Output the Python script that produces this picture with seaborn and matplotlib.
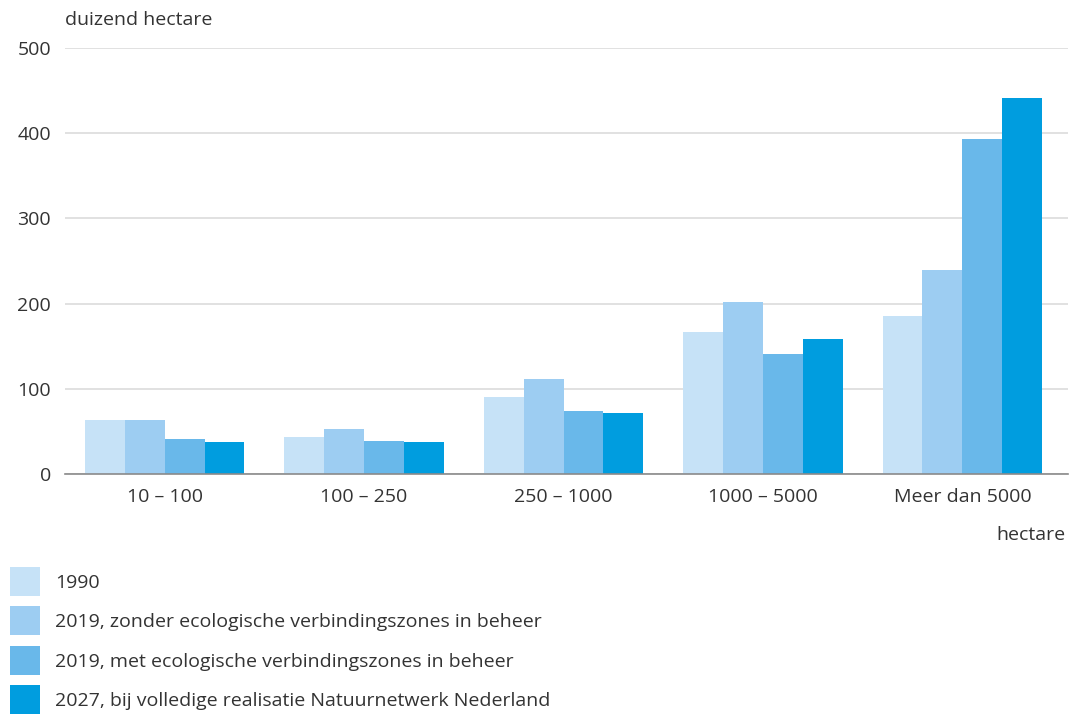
import numpy as np
import pandas as pd
import seaborn as sns
import matplotlib.pyplot as plt
from matplotlib.patches import Patch

categories = ['10 – 100', '100 – 250', '250 – 1000', '1000 – 5000', 'Meer dan 5000']
series = ['1990',
          '2019, zonder ecologische verbindingszones in beheer',
          '2019, met ecologische verbindingszones in beheer',
          '2027, bij volledige realisatie Natuurnetwerk Nederland']
v1990 = [63, 44, 90, 167, 185]
v2019_zonder = [63, 53, 111, 202, 240]
v2019_met = [41, 39, 74, 141, 393]
v2027 = [37, 38, 72, 159, 441]
colors = ['#c6e2f7', '#9dcdf2', '#69b8ea', '#009ddf']

rows = []
for s, vals in zip(series, [v1990, v2019_zonder, v2019_met, v2027]):
    for c, v in zip(categories, vals):
        rows.append({'klasse': c, 'serie': s, 'waarde': v})
df = pd.DataFrame(rows)

sns.set_style('white')
plt.rcParams['font.family'] = ['Open Sans', 'DejaVu Sans']
txt = '#333333'
fs = 14

fig = plt.figure(figsize=(10.7, 7.15), dpi=100)
ax = fig.add_axes([65/1070, 1 - 474/715, 1003/1070, 426/715])

sns.barplot(data=df, x='klasse', y='waarde', hue='serie', order=categories,
            hue_order=series, palette=colors, width=0.8, saturation=1,
            linewidth=0, ax=ax)

ax.set_ylim(0, 500)
ax.set_xlim(-0.5, 4.53)
ax.set_yticks([0, 100, 200, 300, 400, 500])
ax.yaxis.grid(True, color='#dcdcdc', linewidth=1.2)
ax.set_axisbelow(True)
for sp in ['left', 'right', 'top']:
    ax.spines[sp].set_visible(False)
ax.spines['bottom'].set_color('#8a8a8a')
ax.spines['bottom'].set_linewidth(1.2)
ax.tick_params(axis='both', length=0, labelsize=fs, colors=txt)
ax.tick_params(axis='y', pad=10)
ax.tick_params(axis='x', pad=10)
ax.set_xlabel('')
ax.set_ylabel('')
ax.get_legend().remove()

fig.text(65/1070, 1 - 20/715, 'duizend hectare', fontsize=fs, color=txt,
         ha='left', va='center')
fig.text(1066/1070, 1 - 535/715, 'hectare', fontsize=fs, color=txt,
         ha='right', va='center')

handles = [Patch(facecolor=c, edgecolor='none') for c in colors]
fig.legend(handles, series, loc='upper left', bbox_to_anchor=(10/1070, 1 - 567/715),
           frameon=False, fontsize=fs, labelcolor=txt, handlelength=1.55,
           handleheight=1.9, handletextpad=0.75, labelspacing=0.55,
           borderaxespad=0, borderpad=0)

fig.savefig('out.png', dpi=100)
